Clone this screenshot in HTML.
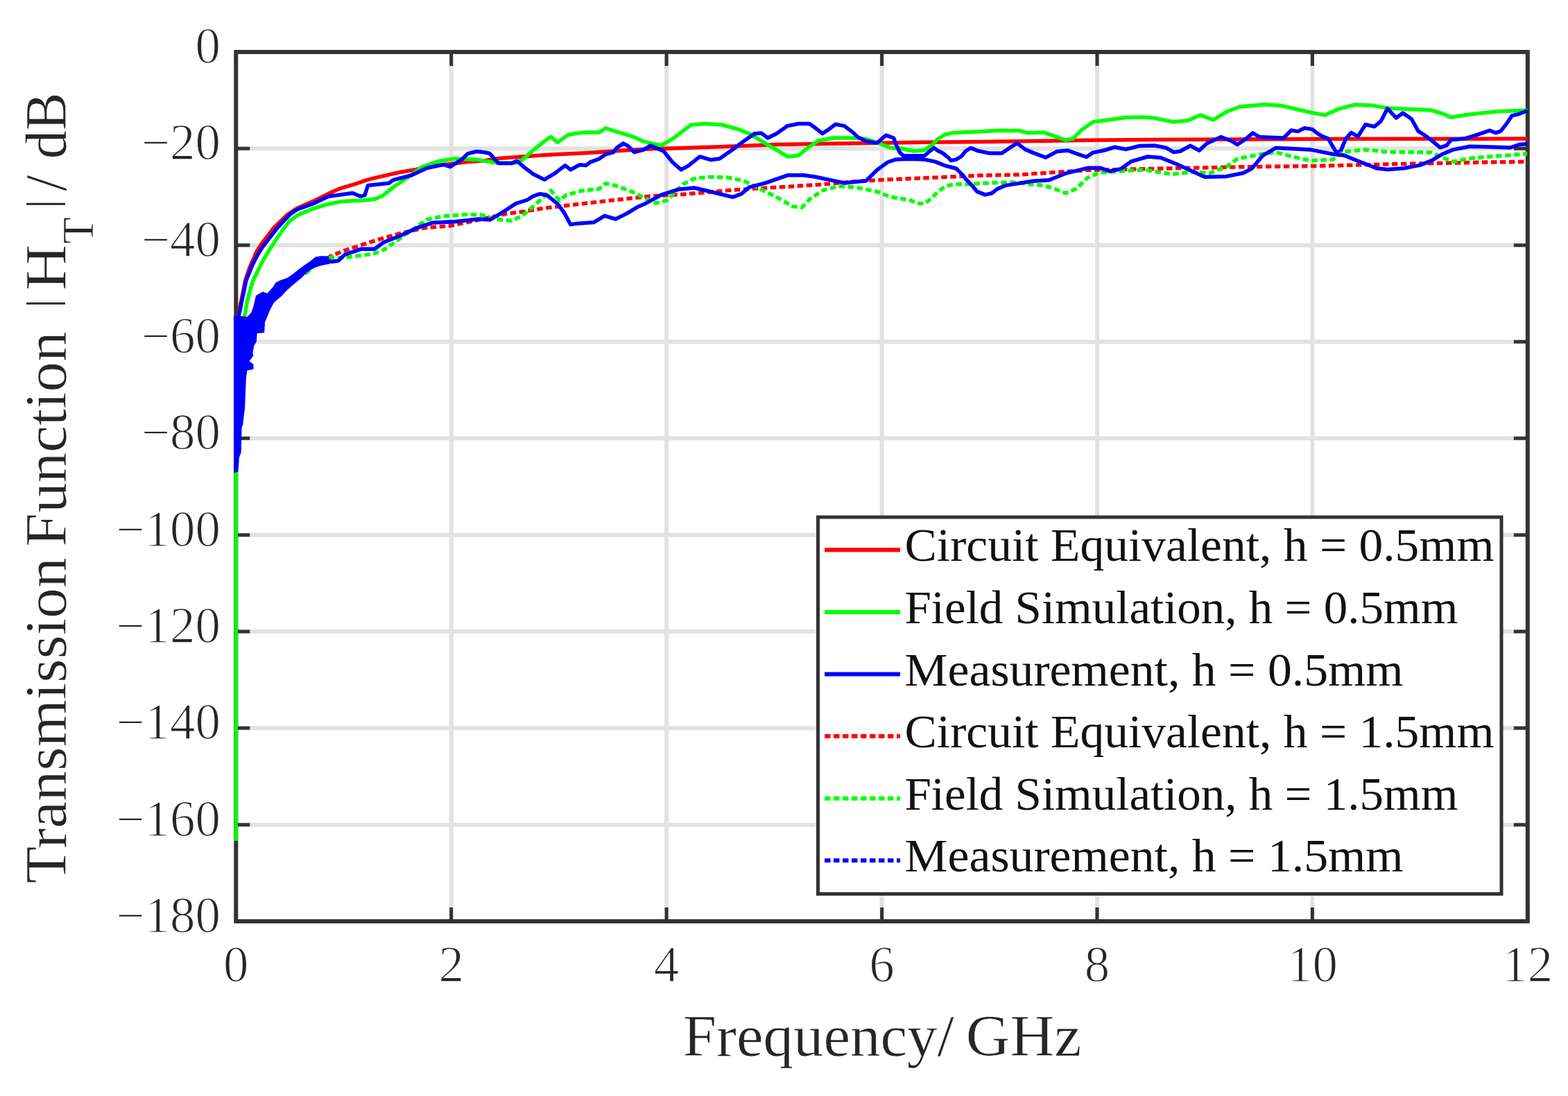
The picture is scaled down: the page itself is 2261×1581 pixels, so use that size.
<!DOCTYPE html>
<html><head><meta charset="utf-8"><title>Transmission Function</title>
<style>html,body{margin:0;padding:0;background:#fff;overflow:hidden}svg{display:block}</style>
</head><body>
<svg width="2261" height="1581" viewBox="0 0 2261 1581">
<rect width="2261" height="1581" fill="#fff"/>
<path d="M650.7 75.0V1329.0M961.1 75.0V1329.0M1271.6 75.0V1329.0M1582.0 75.0V1329.0M1892.4 75.0V1329.0M340.3 214.3H2202.8M340.3 353.7H2202.8M340.3 493.0H2202.8M340.3 632.3H2202.8M340.3 771.7H2202.8M340.3 911.0H2202.8M340.3 1050.3H2202.8M340.3 1189.7H2202.8" stroke="#e2e2e2" stroke-width="6" fill="none"/>
<path d="M340.3 1329.0v-20M340.3 75.0v20M650.7 1329.0v-20M650.7 75.0v20M961.1 1329.0v-20M961.1 75.0v20M1271.6 1329.0v-20M1271.6 75.0v20M1582.0 1329.0v-20M1582.0 75.0v20M1892.4 1329.0v-20M1892.4 75.0v20M2202.8 1329.0v-20M2202.8 75.0v20M340.3 75.0h20M2202.8 75.0h-20M340.3 214.3h20M2202.8 214.3h-20M340.3 353.7h20M2202.8 353.7h-20M340.3 493.0h20M2202.8 493.0h-20M340.3 632.3h20M2202.8 632.3h-20M340.3 771.7h20M2202.8 771.7h-20M340.3 911.0h20M2202.8 911.0h-20M340.3 1050.3h20M2202.8 1050.3h-20M340.3 1189.7h20M2202.8 1189.7h-20M340.3 1329.0h20M2202.8 1329.0h-20" stroke="#333" stroke-width="5" fill="none"/>
<rect x="340.3" y="75.0" width="1862.5" height="1254.0" fill="none" stroke="#333" stroke-width="6"/>
<g fill="none" stroke-width="5.5" stroke-linejoin="round" stroke-linecap="butt">
<polyline points="340.5,500.0 341.0,470.0 343.0,456.0 345.0,448.0 347.4,435.5 350.7,420.3 353.5,405.2 358.5,390.0 361.5,382.2 367.2,369.6 369.7,363.2 378.0,350.6 395.0,328.5 414.6,309.5 428.7,300.3 455.0,288.8 478.0,277.3 489.5,272.2 510.9,265.8 529.0,259.6 543.8,255.9 576.5,248.5 600.0,244.5 624.0,239.5 650.0,236.5 671.4,233.8 700.0,231.5 721.6,228.3 753.3,225.9 800.7,222.7 848.1,220.4 895.6,217.2 940.0,214.8 993.3,213.3 1056.5,210.9 1119.8,208.5 1180.0,207.4 1264.9,206.3 1328.0,205.3 1420.0,204.4 1489.0,203.5 1568.0,202.2 1660.0,201.4 1776.0,201.0 1900.0,200.6 2016.0,200.3 2140.0,200.2 2202.5,200.0" stroke="#ff0000"/>
<polyline points="340.3,1213.0 340.3,700.0 341.5,560.0 345.0,500.0 348.5,475.0 351.7,459.8 353.7,450.7 356.2,435.5 360.3,420.3 364.6,405.2 372.2,390.0 379.2,375.9 390.6,357.0 403.3,338.0 417.2,319.0 430.0,310.0 445.1,303.6 450.0,301.5 469.8,295.4 481.6,292.8 494.4,290.4 513.3,289.6 519.1,289.6 540.5,287.2 552.0,282.2 568.5,269.0 584.5,258.5 608.5,240.8 631.5,232.8 655.6,228.7 690.0,230.6 713.7,234.6 742.2,235.4 753.3,230.6 769.1,216.4 784.9,203.8 794.4,197.4 803.9,205.3 819.7,194.3 840.2,191.1 864.0,191.1 873.4,184.8 887.7,189.5 911.4,196.6 927.2,203.8 940.0,207.0 953.7,209.5 969.5,200.6 996.4,180.0 1017.0,178.5 1040.7,180.0 1064.4,186.4 1080.2,192.7 1096.0,202.2 1111.8,211.7 1135.6,225.9 1151.4,224.3 1165.0,213.0 1180.0,203.0 1201.6,199.0 1230.1,199.0 1249.1,200.6 1268.0,206.9 1283.9,213.3 1299.0,214.2 1318.0,218.0 1333.1,216.4 1344.5,208.8 1352.1,200.5 1363.5,193.7 1374.9,191.4 1409.0,189.9 1440.0,188.3 1470.1,188.5 1481.2,191.7 1504.9,190.9 1520.7,196.4 1536.5,202.0 1547.6,199.6 1560.2,186.9 1576.0,175.9 1599.8,172.7 1623.5,169.5 1650.0,169.0 1665.8,170.6 1692.7,176.1 1713.3,173.8 1730.6,165.9 1749.6,173.0 1768.6,161.1 1787.6,154.0 1823.9,150.8 1847.7,152.4 1871.4,158.0 1890.0,162.2 1910.6,166.1 1929.5,157.4 1953.3,151.1 1977.0,151.9 2000.7,155.9 2032.3,157.4 2063.9,159.0 2079.8,163.8 2092.4,169.3 2111.4,166.1 2133.1,163.4 2159.7,160.7 2186.3,159.8 2202.2,159.0" stroke="#00ff00"/>
<polyline points="340.5,470.0 342.0,462.0 344.0,456.0 346.0,448.0 348.4,435.5 351.7,420.3 354.7,405.2 360.8,390.0 364.0,382.2 370.4,369.6 378.0,357.0 383.0,350.6 400.0,328.5 417.8,309.5 428.7,302.0 450.0,294.4 473.7,283.3 508.5,278.5 519.6,283.3 525.9,281.7 530.6,267.5 560.7,264.3 567.0,259.6 592.3,253.2 616.0,242.2 639.8,237.4 649.2,240.6 666.6,229.5 674.5,221.6 687.2,218.5 697.0,219.5 705.8,221.2 718.5,235.4 737.4,235.4 745.3,232.2 756.4,241.7 769.1,251.2 784.9,259.1 800.7,249.6 814.9,238.6 822.8,244.9 835.5,237.8 845.0,238.6 851.3,233.8 864.0,229.1 873.4,222.7 884.5,219.6 889.2,213.3 898.7,206.9 905.0,210.1 914.5,219.6 927.2,216.4 937.9,210.1 956.9,218.0 969.5,233.8 982.2,244.9 993.3,238.6 1009.1,225.9 1024.9,230.6 1037.5,229.1 1053.3,218.0 1072.3,203.8 1088.1,192.7 1097.6,191.9 1107.1,199.0 1119.8,192.7 1135.6,181.6 1151.4,178.5 1167.2,178.5 1175.0,184.0 1185.8,192.7 1195.3,186.4 1204.8,179.3 1217.4,181.6 1230.1,191.1 1236.4,197.4 1249.1,203.8 1264.9,206.1 1277.5,195.1 1288.6,199.0 1292.9,210.4 1297.5,220.2 1302.8,224.8 1318.0,224.8 1333.1,224.8 1340.7,218.0 1346.8,213.4 1352.1,217.2 1359.7,221.0 1367.3,227.1 1371.1,231.6 1378.7,230.1 1386.3,225.5 1392.3,218.0 1399.9,213.4 1409.0,217.2 1425.8,220.9 1444.8,220.9 1457.4,212.2 1466.9,206.7 1478.0,215.4 1489.1,220.1 1508.0,227.2 1523.9,218.6 1539.7,217.0 1552.3,221.7 1566.5,226.5 1576.0,220.1 1591.8,217.0 1607.7,212.2 1623.5,215.4 1642.4,210.6 1665.8,210.1 1681.6,213.3 1692.7,219.6 1702.2,218.0 1716.4,210.1 1729.1,217.2 1740.1,207.0 1760.7,197.5 1776.5,203.8 1784.4,208.6 1797.1,199.9 1806.5,191.9 1816.0,197.5 1831.8,198.3 1850.8,199.1 1861.9,188.0 1871.4,189.6 1880.9,184.8 1891.9,186.4 1900.0,192.7 1905.8,196.2 1915.3,200.1 1926.4,219.1 1932.7,219.1 1940.6,200.1 1948.5,191.4 1958.0,197.0 1969.1,179.6 1981.7,182.7 1991.2,174.8 2000.7,156.6 2013.3,170.1 2022.8,163.0 2035.5,171.7 2045.0,189.1 2056.0,196.2 2067.1,204.9 2076.6,212.8 2086.1,209.6 2092.4,201.7 2111.4,200.1 2127.2,195.4 2148.2,188.2 2157.0,191.7 2164.1,189.1 2173.0,177.6 2180.1,166.9 2190.7,164.3 2202.2,159.8" stroke="#0000ff"/>
<polyline points="341.0,560.0 345.0,500.0 352.0,470.0 362.0,455.0 375.0,440.0 390.0,428.0 405.0,418.0 420.0,407.0 435.0,396.0 449.5,386.0 461.8,378.0 478.0,369.0 496.0,361.5 510.0,357.0 544.0,346.0 576.0,337.0 610.0,329.0 632.0,327.0 648.0,326.0 677.0,320.0 700.0,315.0 731.5,308.0 756.0,305.0 785.0,300.2 832.0,294.7 880.0,289.2 940.0,282.8 993.0,279.7 1056.0,274.1 1120.0,270.2 1180.0,266.5 1230.0,262.0 1280.0,259.0 1340.0,256.5 1410.0,253.3 1473.0,251.8 1521.0,248.6 1568.0,245.4 1660.0,243.5 1776.0,241.0 1900.0,239.4 2016.0,236.5 2140.0,234.1 2202.5,233.3" stroke="#ff0000" stroke-dasharray="8.5 4.5"/>
<polyline points="440.0,395.0 455.0,382.0 463.4,376.0 479.0,370.6 473.7,371.8 497.4,371.8 511.0,369.4 521.2,368.7 540.1,365.5 552.8,360.8 568.6,349.7 584.4,338.6 601.3,326.6 616.0,316.5 639.8,311.8 671.4,309.4 695.0,310.0 713.7,316.0 737.4,318.4 753.3,311.3 765.9,300.2 778.6,289.2 794.4,274.9 807.0,289.2 816.5,281.2 840.2,274.9 864.0,272.5 873.4,264.6 887.7,267.8 911.4,276.5 930.0,286.0 945.8,293.1 961.6,289.2 985.3,265.4 1001.2,257.5 1024.9,255.2 1048.6,255.9 1072.3,260.7 1088.1,268.6 1104.0,276.5 1119.8,284.4 1143.5,297.8 1156.1,299.4 1167.2,287.6 1185.8,274.9 1209.5,268.6 1233.3,270.2 1264.9,276.5 1280.7,282.8 1295.2,286.3 1310.4,287.8 1321.7,293.1 1333.1,293.9 1344.5,284.7 1352.1,276.4 1363.5,268.8 1374.9,265.8 1393.9,265.8 1416.6,264.3 1440.0,263.5 1457.4,262.8 1504.9,267.6 1520.7,272.3 1536.5,278.6 1552.3,272.3 1568.1,256.5 1584.0,249.4 1615.6,247.0 1650.0,244.9 1689.5,251.2 1721.2,248.1 1744.9,249.7 1768.6,240.2 1784.4,229.1 1816.0,222.8 1839.8,219.6 1863.5,225.9 1890.0,231.8 1921.6,230.2 1937.4,219.1 1969.1,215.9 2000.7,219.1 2063.9,219.9 2079.8,227.0 2095.6,233.3 2119.3,228.6 2142.0,226.3 2168.6,224.5 2202.2,221.8" stroke="#00ff00" stroke-dasharray="8.5 4.5"/>
<polyline points="470.0,375.0 478.5,377.5 488.0,376.0 497.4,367.1 521.2,359.2 540.1,359.2 552.8,349.7 576.5,340.2 600.2,329.2 624.0,321.2 655.6,319.7 690.0,316.0 706.7,317.0 719.0,309.7 731.5,301.7 743.8,293.6 760.0,288.5 769.1,282.8 778.6,279.7 788.0,281.2 803.9,293.9 813.3,306.5 822.8,323.9 832.3,322.4 856.0,320.8 871.8,311.3 887.7,316.0 903.5,308.1 919.3,298.6 930.0,293.9 953.7,281.2 977.4,273.3 1001.2,271.0 1024.9,276.5 1056.5,284.4 1069.2,279.7 1080.2,270.2 1104.0,263.9 1135.6,252.8 1159.3,252.8 1175.0,255.0 1217.4,263.9 1249.1,260.7 1264.9,244.9 1280.0,234.0 1291.4,230.1 1310.4,229.3 1333.1,230.1 1348.3,233.1 1363.5,239.2 1378.7,243.0 1386.3,250.6 1393.9,259.7 1401.4,267.3 1409.0,276.4 1420.4,280.9 1430.3,278.7 1437.9,272.6 1449.5,267.6 1489.1,261.2 1512.8,259.7 1536.5,250.2 1568.1,242.3 1587.1,242.3 1599.8,247.0 1615.6,243.9 1631.4,232.8 1655.0,226.0 1673.7,227.5 1697.4,237.0 1721.2,248.1 1737.0,255.2 1768.6,254.4 1792.3,249.7 1805.0,243.3 1820.8,224.4 1839.8,213.3 1871.4,214.9 1890.0,215.9 1905.8,219.1 1921.6,222.3 1937.4,223.9 1953.3,230.2 1969.1,236.5 1984.9,242.8 2000.7,244.4 2024.4,242.8 2048.1,238.1 2063.9,231.8 2079.8,222.3 2095.6,215.9 2119.3,211.2 2150.8,212.1 2177.4,213.0 2190.7,208.6 2202.2,207.7" stroke="#0000ff"/>
</g>
<polygon points="337.0,456.0 348.0,456.0 356.0,457.0 362.0,452.0 366.0,440.0 368.9,426.5 378.8,420.7 385.3,423.2 393.6,414.1 397.7,407.6 404.2,404.3 414.1,401.0 422.3,395.2 434.7,385.4 447.0,377.1 455.2,370.6 463.4,369.3 474.1,369.7 475.8,380.4 463.4,382.9 452.8,386.2 442.9,392.8 434.7,401.0 422.3,410.9 412.5,419.9 405.9,427.3 395.2,436.3 389.4,447.0 385.3,456.9 382.0,465.1 381.2,480.0 370.7,480.7 369.8,493.1 366.3,498.4 364.5,509.0 365.5,513.0 359.5,521.0 365.5,525.5 365.5,532.6 356.4,534.6 354.8,546.2 353.0,590.4 352.1,595.8 350.4,611.7 348.6,617.0 347.7,652.4 345.0,659.5 343.3,680.7 337.0,682.0" fill="#0000ff"/>
<g font-family="Liberation Serif, serif" font-size="73" fill="#262626" stroke="#fff" stroke-width="1.4">
<text x="318" y="91.0" text-anchor="end">0</text>
<text x="318" y="230.3" text-anchor="end">&#8722;20</text>
<text x="318" y="369.7" text-anchor="end">&#8722;40</text>
<text x="318" y="509.0" text-anchor="end">&#8722;60</text>
<text x="318" y="648.3" text-anchor="end">&#8722;80</text>
<text x="318" y="787.7" text-anchor="end">&#8722;100</text>
<text x="318" y="927.0" text-anchor="end">&#8722;120</text>
<text x="318" y="1066.3" text-anchor="end">&#8722;140</text>
<text x="318" y="1205.7" text-anchor="end">&#8722;160</text>
<text x="318" y="1345.0" text-anchor="end">&#8722;180</text>
<text x="340.3" y="1415.5" text-anchor="middle">0</text>
<text x="650.7" y="1415.5" text-anchor="middle">2</text>
<text x="961.1" y="1415.5" text-anchor="middle">4</text>
<text x="1271.6" y="1415.5" text-anchor="middle">6</text>
<text x="1582.0" y="1415.5" text-anchor="middle">8</text>
<text x="1892.4" y="1415.5" text-anchor="middle">10</text>
<text x="2202.8" y="1415.5" text-anchor="middle">12</text>
</g>
<g font-family="Liberation Serif, serif" font-size="84" fill="#262626" stroke="#fff" stroke-width="0.6"><text x="984.8" y="1523" textLength="390.8" lengthAdjust="spacingAndGlyphs">Frequency/</text><text x="1392.7" y="1523" textLength="166.9" lengthAdjust="spacingAndGlyphs">GHz</text></g>
<g font-family="Liberation Serif, serif" font-size="84" fill="#262626" stroke="#fff" stroke-width="0.6" transform="rotate(-90)"><text x="-1274.6" y="95" textLength="470.6" lengthAdjust="spacingAndGlyphs">Transmission</text><text x="-788.4" y="95" textLength="310.2" lengthAdjust="spacingAndGlyphs">Function</text><text x="-444" y="81" font-size="62" stroke="none">|</text><text x="-419" y="95" textLength="66.3" lengthAdjust="spacingAndGlyphs">H</text><text x="-351.7" y="133.5" font-size="63">T</text><text x="-300.6" y="81" font-size="62" stroke="none">|</text><text x="-275.7" y="95">/</text><text x="-229.3" y="95" textLength="96" lengthAdjust="spacingAndGlyphs">dB</text></g>
<rect x="1179.5" y="746" width="985.5" height="543.5" fill="#fff" stroke="#333" stroke-width="5"/>
<line x1="1189" y1="793.3" x2="1298" y2="793.3" stroke="#ff0000" stroke-width="6"/>
<text font-family="Liberation Serif, serif" font-size="67" fill="#111" x="1304.5" y="809.3" textLength="850" lengthAdjust="spacingAndGlyphs">Circuit Equivalent, h = 0.5mm</text>
<line x1="1189" y1="882.9" x2="1298" y2="882.9" stroke="#00ff00" stroke-width="6"/>
<text font-family="Liberation Serif, serif" font-size="67" fill="#111" x="1304.5" y="898.9" textLength="797.8" lengthAdjust="spacingAndGlyphs">Field Simulation, h = 0.5mm</text>
<line x1="1189" y1="972.5" x2="1298" y2="972.5" stroke="#0000ff" stroke-width="6"/>
<text font-family="Liberation Serif, serif" font-size="67" fill="#111" x="1304.5" y="988.5" textLength="719" lengthAdjust="spacingAndGlyphs">Measurement, h = 0.5mm</text>
<line x1="1189" y1="1062.1" x2="1298" y2="1062.1" stroke="#ff0000" stroke-width="6" stroke-dasharray="8.5 4.5"/>
<text font-family="Liberation Serif, serif" font-size="67" fill="#111" x="1304.5" y="1078.1" textLength="850" lengthAdjust="spacingAndGlyphs">Circuit Equivalent, h = 1.5mm</text>
<line x1="1189" y1="1151.7" x2="1298" y2="1151.7" stroke="#00ff00" stroke-width="6" stroke-dasharray="8.5 4.5"/>
<text font-family="Liberation Serif, serif" font-size="67" fill="#111" x="1304.5" y="1167.7" textLength="797.8" lengthAdjust="spacingAndGlyphs">Field Simulation, h = 1.5mm</text>
<line x1="1189" y1="1241.3" x2="1298" y2="1241.3" stroke="#0000ff" stroke-width="6" stroke-dasharray="8.5 4.5"/>
<text font-family="Liberation Serif, serif" font-size="67" fill="#111" x="1304.5" y="1257.3" textLength="719" lengthAdjust="spacingAndGlyphs">Measurement, h = 1.5mm</text>
</svg></body></html>
